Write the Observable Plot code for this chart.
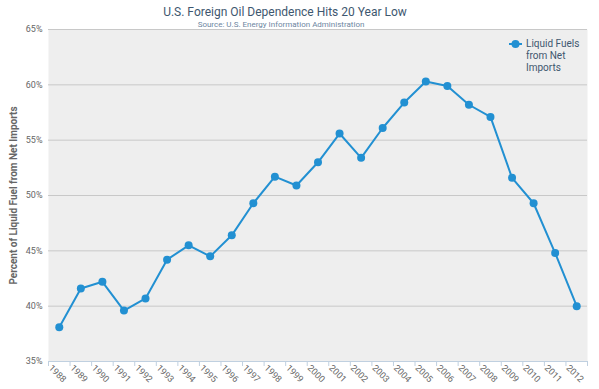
<!DOCTYPE html>
<html>
<head>
<meta charset="utf-8">
<script src="https://cdn.jsdelivr.net/npm/d3@7"></script>
<script src="https://cdn.jsdelivr.net/npm/@observablehq/plot@0.6"></script>
<style>
  html, body { margin: 0; padding: 0; background: #fff; }
  #wrap { position: relative; width: 599px; height: 389px; font-family: Roboto, sans-serif; }
  #title { position: absolute; top: 7.2px; left: 285px; transform: translateX(-50%); white-space: nowrap;
           font-size: 12px; line-height: 11px; color: #3e576f; }
  #subtitle { position: absolute; top: 21px; left: 281px; transform: translateX(-50%); white-space: nowrap;
              font-size: 8px; line-height: 7px; color: #6d869f; }
  #legend { position: absolute; top: 38px; left: 505px; }
  #legend svg { position: absolute; left: 0; top: 0; }
  #legend .txt { position: absolute; left: 21px; top: 0; font-size: 10px; line-height: 12px; color: #3e576f; white-space: nowrap; }
</style>
</head>
<body>
<div id="wrap">
  <div id="chart"></div>
  <div id="title">U.S. Foreign Oil Dependence Hits 20 Year Low</div>
  <div id="subtitle">Source: U.S. Energy Information Administration</div>
  <div id="legend">
    <svg width="20" height="14"><line x1="4" y1="6" x2="17" y2="6" stroke="#2290d2" stroke-width="2"/><circle cx="10.5" cy="6" r="4" fill="#2290d2"/></svg>
    <div class="txt">Liquid Fuels<br>from Net<br>Imports</div>
  </div>
</div>
<script>
const years = ["1988","1989","1990","1991","1992","1993","1994","1995","1996","1997","1998","1999","2000","2001","2002","2003","2004","2005","2006","2007","2008","2009","2010","2011","2012"];
const values = [38.1, 41.6, 42.2, 39.6, 40.7, 44.2, 45.5, 44.5, 46.4, 49.3, 51.7, 50.9, 53.0, 55.6, 53.4, 56.1, 58.4, 60.3, 59.9, 58.2, 57.1, 51.6, 49.3, 44.8, 40.0];
const yTicks = [35, 40, 45, 50, 55, 60, 65];
const seriesName = "Liquid Fuels from Net Imports";
const yTitle = "Percent of Liquid Fuel from Net Imports";

const data = years.map((y, i) => ({year: y, value: values[i]}));

const W = 599, H = 389, mL = 48, mR = 12, mT = 29, mB = 28;
const bw = (W - mL - mR) / years.length;
const blue = "#2290d2";

const chart = Plot.plot({
  width: W,
  height: H,
  marginLeft: mL,
  marginRight: mR,
  marginTop: mT,
  marginBottom: mB,
  style: {fontFamily: "Roboto, sans-serif", background: "transparent"},
  x: {type: "point", domain: years, padding: 0.5, round: false},
  y: {domain: [35, 65]},
  marks: [
    Plot.frame({fill: "#eeeeee", stroke: null}),
    Plot.ruleY(yTicks.filter(t => t > 35), {stroke: "#c8c8c8", strokeWidth: 1}),
    Plot.ruleY([35], {stroke: "#c0d0e0", strokeWidth: 1}),
    Plot.axisY({ticks: yTicks, tickFormat: d => d + "%", tickSize: 0, tickPadding: 6,
                fontSize: 9, fill: "#666", label: null}),
    Plot.axisX({ticks: years, tickSize: 5, tickFormat: () => "", stroke: "#c0d0e0", dx: -bw / 2, label: null}),
    Plot.axisX({ticks: [years[years.length - 1]], tickSize: 5, tickFormat: () => "", stroke: "#c0d0e0", dx: bw / 2, label: null}),
    Plot.axisX({ticks: years, tickSize: 0, tickPadding: 5, tickRotate: 45, fontSize: 9, fill: "#666", dx: -9, label: null}),
    Plot.text([yTitle], {text: d => d, frameAnchor: "left", textAnchor: "middle", rotate: -90,
                dx: -35, fontSize: 10, fontWeight: "bold", fill: "#666"}),
    Plot.line(data, {x: "year", y: "value", stroke: blue, strokeWidth: 2}),
    Plot.dot(data, {x: "year", y: "value", r: 4, fill: blue, stroke: null})
  ]
});
document.getElementById("chart").appendChild(chart);
</script>
</body>
</html>
